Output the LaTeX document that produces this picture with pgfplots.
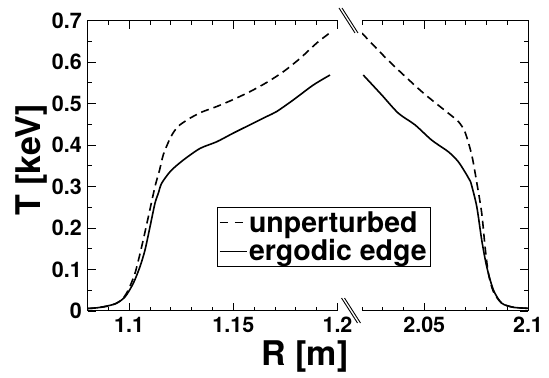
\documentclass[border=0pt]{standalone}
\usepackage{fontspec}
\setmainfont{TeX Gyre Heros}
\usepackage{pgfplots}
\pgfplotsset{compat=1.18}
\newcommand\tickfont{\fontsize{21.5bp}{24bp}\selectfont\bfseries}
\newcommand\legfont{\fontsize{28.5bp}{32bp}\selectfont\bfseries}
\newcommand\labfont{\fontsize{34bp}{38bp}\selectfont\bfseries}
\pgfplotsset{
 brk/.style={
  scale only axis, height=290.3bp, ymin=0, ymax=0.7,
  ytick={0,0.1,0.2,0.3,0.4,0.5,0.6,0.7},
  minor ytick={0.05,0.15,0.25,0.35,0.45,0.55,0.65},
  axis line style={draw=none},
  major tick length=8bp, minor tick length=4bp,
  tick style={black, line width=0.9bp},
  tick align=inside, xtick pos=both,
  scaled ticks=false,
  /pgf/number format/assume math mode=true,
  /pgf/number format/fixed,
  /pgf/number format/precision=2,
  ticklabel style={font=\tickfont},
  xticklabel style={inner sep=0pt, yshift=-6bp},
  yticklabel style={inner sep=0pt, xshift=-5.5bp},
 },
 unp/.style={black, line width=1.6bp, dash pattern=on 8bp off 5bp, smooth, tension=0.45},
 erg/.style={black, line width=1.6bp, smooth, tension=0.45},
}
\begin{document}
\begin{tikzpicture}
\useasboundingbox (0,0) rectangle (549bp,378bp);
\begin{axis}[brk, at={(87.5bp,67bp)}, anchor=south west, width=250bp,
  xmin=1.08, xmax=1.2, xtick={1.1,1.15,1.2},
  minor xtick={1.08,1.09,1.11,1.12,1.13,1.14,1.16,1.17,1.18,1.19},
  ytick pos=left,
  legend style={at={(0.518,0.358)}, anchor=north west, draw=black, line width=0.8bp,
    font=\legfont, inner xsep=2bp, inner ysep=2.5bp, row sep=3bp,
    nodes={inner sep=1.5bp}, cells={anchor=west}},
  legend image code/.code={\draw[#1] (0bp,0bp) -- (23bp,0bp); \path (0bp,0bp) -- (27bp,0bp);},
  after end axis/.code={\draw[line width=1bp, black] (rel axis cs:1,0) -- (rel axis cs:0,0) -- (rel axis cs:0,1) -- (rel axis cs:1,1);}
]
\addplot[unp, forget plot] table {
x y
1.080 0.006
1.085 0.008
1.090 0.012
1.094 0.019
1.097 0.030
1.0996 0.051
1.1028 0.091
1.106 0.155
1.1092 0.227
1.1124 0.300
1.1145 0.338
1.1164 0.377
1.1196 0.416
1.1220 0.436
1.1244 0.449
1.1292 0.465
1.135 0.480
1.142 0.493
1.150 0.510
1.158 0.529
1.166 0.551
1.174 0.577
1.182 0.609
1.190 0.646
1.1972 0.674
};
\addplot[erg, forget plot] table {
x y
1.080 0.006
1.085 0.008
1.0932 0.017
1.098 0.034
1.102 0.067
1.1052 0.107
1.1076 0.147
1.110 0.203
1.1124 0.260
1.114 0.284
1.1156 0.308
1.120 0.338
1.126 0.364
1.134 0.392
1.142 0.408
1.150 0.429
1.158 0.449
1.166 0.469
1.1708 0.481
1.1788 0.509
1.1884 0.545
1.1964 0.569
};
\addlegendimage{black, line width=1.1bp, dash pattern=on 8bp off 7bp}
\addlegendentry{unperturbed}
\addlegendimage{black, line width=1.1bp}
\addlegendentry{ergodic edge}
\end{axis}
\begin{axis}[brk, at={(362bp,67bp)}, anchor=south west, width=166bp,
  xmin=2.02, xmax=2.1, xtick={2.05,2.1},
  minor xtick={2.02,2.03,2.04,2.06,2.07,2.08,2.09},
  ytick pos=right, yticklabels={},
  after end axis/.code={\draw[line width=1bp, black] (rel axis cs:0,0) -- (rel axis cs:1,0) -- (rel axis cs:1,1) -- (rel axis cs:0,1);}
]
\addplot[unp] table {
x y
2.020 0.670
2.0327 0.604
2.0488 0.529
2.0616 0.477
2.0664 0.457
2.0696 0.432
2.0729 0.376
2.0753 0.310
2.0777 0.236
2.0793 0.155
2.0809 0.091
2.0833 0.047
2.0873 0.019
2.0929 0.009
2.100 0.0065
};
\addplot[erg] table {
x y
2.0206 0.569
2.0295 0.521
2.0375 0.477
2.0455 0.449
2.0536 0.412
2.0616 0.384
2.0664 0.360
2.0705 0.328
2.0723 0.312
2.0753 0.252
2.0777 0.171
2.0801 0.107
2.0833 0.051
2.0873 0.019
2.0929 0.009
2.100 0.0065
};
\end{axis}
\draw[line width=0.9bp] (339bp,370bp) -- (355bp,345bp);
\draw[line width=0.9bp] (342bp,370bp) -- (358bp,345bp);
\draw[line width=0.9bp] (341.5bp,80bp) -- (357.5bp,55bp);
\draw[line width=0.9bp] (344.5bp,80bp) -- (360.5bp,55bp);
\node[font=\labfont, rotate=90, anchor=base] at (40bp,218bp) {T [keV]};
\node[font=\labfont, anchor=base] at (305bp,13bp) {R [m]};
\end{tikzpicture}
\end{document}
